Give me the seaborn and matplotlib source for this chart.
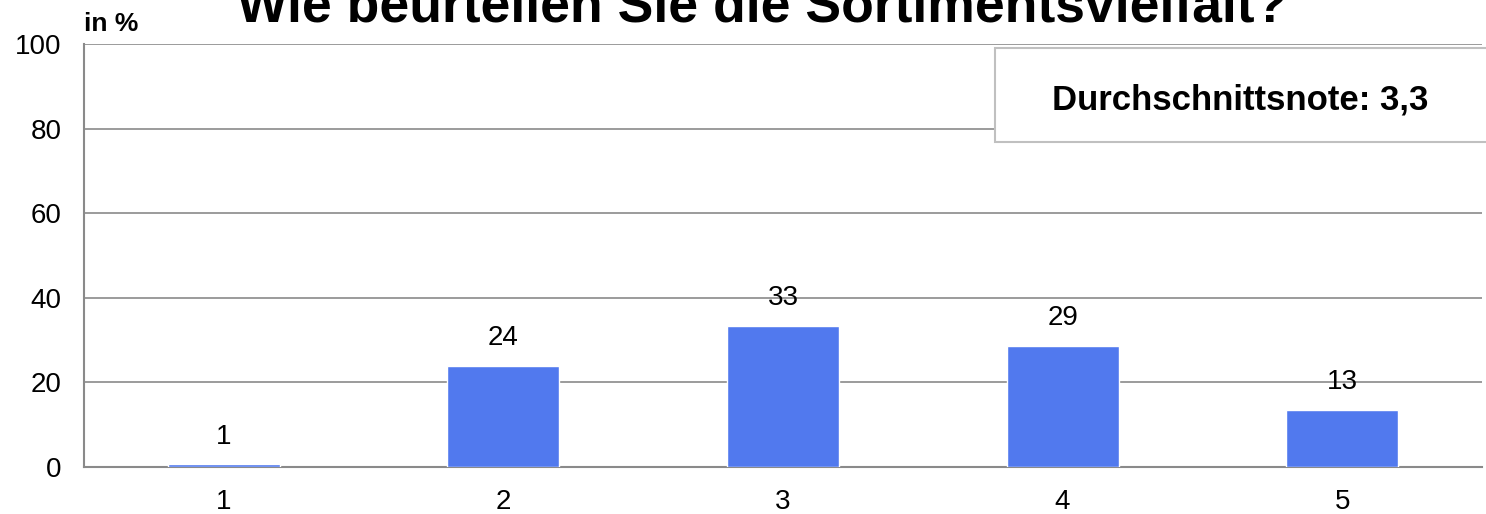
import pandas as pd
import numpy as np
import matplotlib
matplotlib.use("Agg")
import matplotlib.pyplot as plt
import seaborn as sns
from matplotlib.patches import Rectangle

noten = ["1", "2", "3", "4", "5"]
anteile = [0.6, 23.9, 33.4, 28.6, 13.5]
beschriftung = ["1", "24", "33", "29", "13"]
titel = "Wie beurteilen Sie die Sortimentsvielfalt?"
hinweis = "Durchschnittsnote: 3,3"

sns.set_style("white")
plt.rcParams['font.family'] = ['Liberation Sans', 'DejaVu Sans']
plt.rcParams['text.color'] = 'black'

df = pd.DataFrame({"note": noten, "anteil": anteile})

fig = plt.figure(figsize=(14.86, 5.14), dpi=100)
ax = fig.add_axes([84 / 1486, 47 / 514, 1398 / 1486, 423 / 514])

sns.barplot(data=df, x="note", y="anteil", color="#5179EE", width=0.4,
            saturation=1, ax=ax, zorder=3)

grau = "#8a8a8a"
ax.set_ylim(0, 100)
ax.set_xlim(-0.5, len(noten) - 0.5)
ax.set_yticks([0, 20, 40, 60, 80, 100])
ax.yaxis.grid(True, color=grau, linewidth=1.2)
ax.set_axisbelow(True)
for s in ["top", "right"]:
    ax.spines[s].set_visible(False)
for s in ["left", "bottom"]:
    ax.spines[s].set_color(grau)
    ax.spines[s].set_linewidth(1.5)

# Ticks unten zwischen den Kategorien
ax.set_xticks(np.arange(len(noten)))
ax.set_xticklabels(noten)
ax.set_xticks(np.arange(-0.5, len(noten)), minor=True)
ax.tick_params(axis="x", which="major", length=0, labelsize=20, labelcolor="black", pad=16)
ax.tick_params(axis="x", which="minor", length=8, width=1.5, color=grau, direction="out")
ax.tick_params(axis="y", length=6, width=1.5, color=grau, labelsize=20, labelcolor="black", pad=10)
ax.set_xlabel("")
ax.set_ylabel("")

for i, (wert, txt) in enumerate(zip(anteile, beschriftung)):
    ax.annotate(txt, (i, wert), xytext=(0, 20), textcoords="offset points",
                ha="center", va="center", fontsize=20, color="black", zorder=4)

fig.text(762 / 1486, 1 - 21 / 514, titel, ha="center", va="baseline",
         fontsize=38.5, fontweight="bold")
fig.text(84 / 1486, 1 - 31 / 514, "in %", ha="left", va="baseline",
         fontsize=19, fontweight="bold")

box = Rectangle((995 / 1486, 1 - 142 / 514), 520 / 1486, 94 / 514,
                transform=fig.transFigure, fill=True, facecolor="white",
                edgecolor="#c0c0c0", linewidth=1.5, zorder=5)
fig.add_artist(box)
fig.text(1240 / 1486, 1 - 100 / 514, hinweis, ha="center", va="center",
         fontsize=25, fontweight="bold", zorder=6)

fig.savefig("out.png", dpi=100)
